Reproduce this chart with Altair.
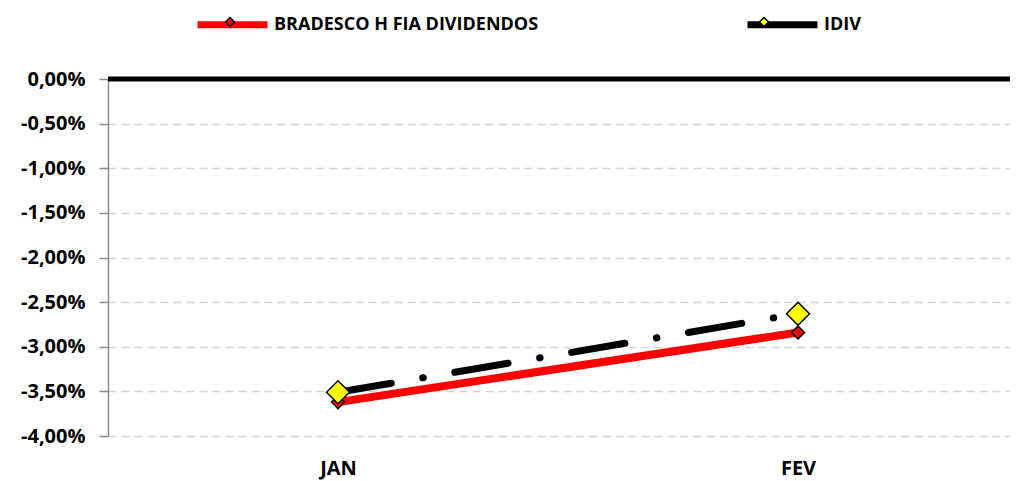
import altair as alt
import pandas as pd

months = ["JAN", "FEV"]
bradesco = [-3.62, -2.84]
idiv = [-3.51, -2.63]
series = ["BRADESCO H FIA DIVIDENDOS", "IDIV"]
line_colors = ["#ff0000", "#000000"]
marker_colors = ["#ff0000", "#ffff00"]
y_ticks = [0, -0.5, -1, -1.5, -2, -2.5, -3, -3.5, -4]

# marker series names carry a zero-width space so their legend is kept apart
markers = [s + "\u200b" for s in series]

df = pd.DataFrame({
    "mes": months * 2,
    "valor": bradesco + idiv,
    "serie": [series[0]] * 2 + [series[1]] * 2,
    "marcador": [markers[0]] * 2 + [markers[1]] * 2,
})

FONT = "Open Sans"
W, H = 902, 357
LX, LY, LOFF, CPAD = 86, -93, 3, 194

x_enc = alt.X(
    "mes:N", sort=months, title=None,
    scale=alt.Scale(type="point", padding=0.48043, align=0.5204),
    axis=alt.Axis(domain=False, ticks=False, grid=False, labelFont=FONT,
                  labelFontSize=20, labelFontWeight="bold", labelColor="black",
                  labelPadding=22, labelAngle=0),
)
y_scale = alt.Scale(domain=[-4, 0], nice=False, zero=False)
y_axis = alt.Axis(values=y_ticks,
                  labelExpr="(datum.value < 0 ? '-' : '') + replace(format(abs(datum.value), '.2f'), '.', ',') + '%'",
                  labelFont=FONT, labelFontSize=20, labelFontWeight="bold",
                  labelColor="black", labelPadding=14, tickSize=9,
                  tickColor="#8c8c8c", tickWidth=1.5, domainColor="#8c8c8c",
                  domainWidth=1.5, grid=True, gridDash=[8, 5],
                  gridColor="#d4d4d4", gridWidth=1.5)
y_enc = alt.Y("valor:Q", title=None, scale=y_scale, axis=y_axis)

stroke_enc = alt.Stroke(
    "serie:N",
    scale=alt.Scale(domain=series, range=line_colors),
    legend=alt.Legend(orient="none", legendX=LX, legendY=LY, direction="horizontal",
                      title=None, symbolType="M-1,0H1", symbolSize=4900,
                      symbolStrokeWidth=7, labelFont=FONT, labelFontSize=18,
                      labelFontWeight="bold", labelColor="black", labelOffset=LOFF,
                      columnPadding=CPAD, padding=0, labelLimit=0),
)
fill_enc = alt.Fill(
    "marcador:N",
    scale=alt.Scale(domain=markers, range=marker_colors),
    legend=alt.Legend(orient="none", legendX=LX, legendY=LY, direction="horizontal",
                      title=None, symbolType="M0,-0.13L0.13,0L0,0.13L-0.13,0Z",
                      symbolSize=4900, symbolStrokeColor="black", symbolStrokeWidth=1.5,
                      labelFont=FONT, labelFontSize=18, labelFontWeight="bold",
                      labelColor="black", labelOpacity=0, labelOffset=LOFF,
                      columnPadding=CPAD, padding=0, labelLimit=0),
)

base = alt.Chart(df)

zero_line = alt.Chart(pd.DataFrame({"valor": [0]})).mark_rule(
    color="black", strokeWidth=5
).encode(
    y=y_enc,
    x=alt.value(0), x2=alt.value(W),
)

red_line = base.transform_filter(alt.datum.serie == series[0]).mark_line(
    strokeWidth=8, strokeCap="round"
).encode(x=x_enc, y=y_enc, stroke=stroke_enc)

black_line = base.transform_filter(alt.datum.serie == series[1]).mark_line(
    strokeWidth=7, strokeDash=[54, 32, 0.5, 32], strokeCap="round"
).encode(x=x_enc, y=y_enc, stroke=stroke_enc)

red_pts = base.transform_filter(alt.datum.serie == series[0]).mark_point(
    shape="diamond", filled=True, size=170, stroke="black", strokeWidth=1.5, opacity=1
).encode(x=x_enc, y=y_enc, fill=fill_enc)

yellow_pts = base.transform_filter(alt.datum.serie == series[1]).mark_point(
    shape="diamond", filled=True, size=530, stroke="black", strokeWidth=1.5, opacity=1
).encode(x=x_enc, y=y_enc, fill=fill_enc)

chart = alt.layer(red_line, black_line, zero_line, red_pts, yellow_pts).properties(
    width=W, height=H,
    background="white",
    autosize=alt.AutoSizeParams(type="none"),
    padding={"left": 100, "top": 71, "right": 0, "bottom": 45},
).configure_view(stroke=None)

chart.save("out.html", embed_options={"renderer": "svg", "actions": False})
